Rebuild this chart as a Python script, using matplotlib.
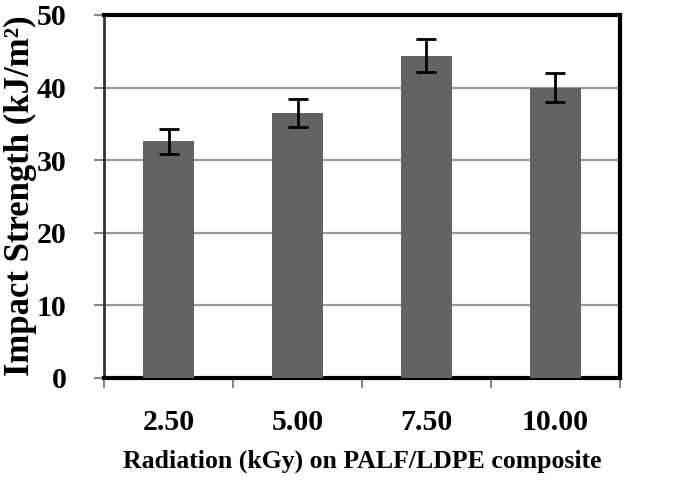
import matplotlib
matplotlib.use("Agg")
import matplotlib.pyplot as plt
import numpy as np

doses  = ["2.50", "5.00", "7.50", "10.00"]
impact = [32.6, 36.5, 44.4, 40.0]
errors = [1.7, 1.9, 2.3, 2.0]

plt.rcParams["font.family"] = ["Liberation Serif", "DejaVu Serif"]
plt.rcParams["font.weight"] = "bold"

fig = plt.figure(figsize=(6.85, 4.8), dpi=100)
ax = fig.add_axes([0.152, 0.2125, 0.753, 0.7565])

x = np.arange(len(doses))
ax.bar(x, impact, width=0.4, color="#636363", zorder=3)
ax.errorbar(x, impact, yerr=errors, fmt="none", ecolor="black",
            elinewidth=2, capsize=7, capthick=2, zorder=4)

ax.set_ylim(0, 50)
ax.set_xlim(-0.5, len(doses) - 0.5)
ax.set_yticks(range(0, 51, 10))
ax.yaxis.grid(True, color="#999999", linewidth=1.6, zorder=0)
ax.set_axisbelow(True)

# category ticks between bars, labels centred under the bars
ax.set_xticks(np.arange(-0.5, len(doses), 1.0))
ax.set_xticklabels([])
ax.set_xticks(x, minor=True)
ax.set_xticklabels(doses, minor=True, fontsize=21.5, fontweight="bold")
ax.tick_params(axis="x", which="minor", length=0, pad=22)
ax.tick_params(axis="x", which="major", length=7, width=1.5,
               color="#888888", direction="out")
ax.tick_params(axis="y", length=7, width=1.5, color="#888888",
               direction="out", pad=20, labelsize=21.5)
for lbl in ax.get_yticklabels():
    lbl.set_fontweight("bold")

for side in ["top", "right", "bottom"]:
    ax.spines[side].set_linewidth(3)
    ax.spines[side].set_color("black")
ax.spines["left"].set_linewidth(2)
ax.spines["left"].set_color("#333333")

fig.text(20 / 685, 1 - 196 / 480, "Impact Strength (kJ/m²)", rotation=90,
         fontsize=25, fontweight="bold", ha="center", va="center")
ax.set_xlabel("Radiation (kGy) on PALF/LDPE composite", fontsize=18.5,
              fontweight="bold", labelpad=10)

fig.savefig("out.png", dpi=100)
